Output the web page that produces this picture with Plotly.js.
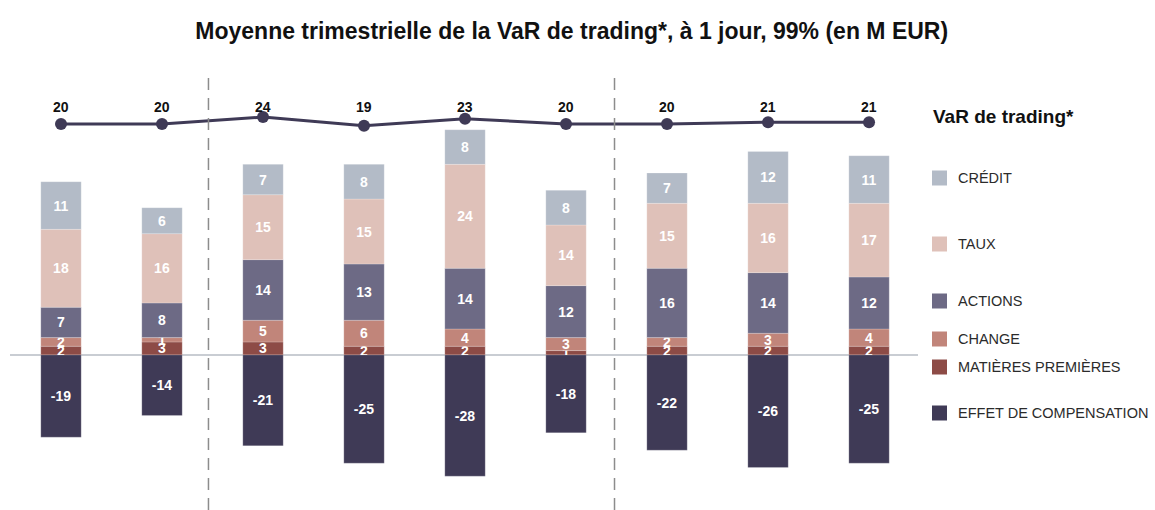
<!DOCTYPE html>
<html>
<head>
<meta charset="utf-8">
<script src="https://cdn.plot.ly/plotly-3.0.1.min.js"></script>
<style>html,body{margin:0;padding:0;background:#fff;}#chart{width:1155px;height:510px;}</style>
</head>
<body>
<div id="chart"></div>
<script>
// ---- Data ----
const quarters = ['T1','T2','T3','T4','T5','T6','T7','T8','T9'];
const matieresPremieres = [2, 3, 3, 2, 2, 1, 2, 2, 2];
const change = [2, 1, 5, 6, 4, 3, 2, 3, 4];
const actions = [7, 8, 14, 13, 14, 12, 16, 14, 12];
const taux = [18, 16, 15, 15, 24, 14, 15, 16, 17];
const credit = [11, 6, 7, 8, 8, 8, 7, 12, 11];
const effetCompensation = [-19, -14, -21, -25, -28, -18, -22, -26, -25];
const varTrading = [20, 20, 24, 19, 23, 20, 20, 21, 21];

const seriesNames = ['CRÉDIT', 'TAUX', 'ACTIONS', 'CHANGE', 'MATIÈRES PREMIÈRES', 'EFFET DE COMPENSATION'];
const legendTitle = 'VaR de trading*';
const chartTitle = 'Moyenne trimestrielle de la VaR de trading*, à 1 jour, 99% (en M EUR)';

// ---- Styles ----
const colors = {
  credit: '#b3bbc7',
  taux: '#dfc1b9',
  actions: '#6d6a85',
  change: '#c1857a',
  mp: '#8d4b46',
  effet: '#3f3a56'
};
const FONT = '"Liberation Sans", Arial, sans-serif';

// plot area geometry (px)
const W = 1155, H = 510;
const mL = 10, mR = 240, mT = 60, mB = 10;
const plotW = W - mL - mR, plotH = H - mT - mB;
const px2x = p => (p - mL) / plotW;
const px2y = p => (H - mB - p) / plotH;

function barTrace(name, vals, color) {
  return {
    type: 'bar', x: quarters, y: vals, name: name,
    marker: {color: color, line: {color: 'rgba(255,255,255,0.35)', width: 0.6}},
    width: 0.4,
    text: vals.map(String), textposition: 'inside', insidetextanchor: 'middle',
    textangle: 0, constraintext: 'none', cliponaxis: false,
    textfont: {color: '#ffffff', size: 14, family: FONT, weight: 'bold'},
    showlegend: false, hoverinfo: 'skip'
  };
}

const traces = [
  barTrace(seriesNames[4], matieresPremieres, colors.mp),
  barTrace(seriesNames[3], change, colors.change),
  barTrace(seriesNames[2], actions, colors.actions),
  barTrace(seriesNames[1], taux, colors.taux),
  barTrace(seriesNames[0], credit, colors.credit),
  barTrace(seriesNames[5], effetCompensation, colors.effet),
  {
    type: 'scatter', mode: 'lines+markers', x: quarters, y: varTrading, yaxis: 'y2',
    name: legendTitle,
    line: {color: colors.effet, width: 3},
    marker: {color: colors.effet, size: 12},
    showlegend: false, hoverinfo: 'skip', cliponaxis: false
  }
];

// line value labels (fixed row above the line)
const annotations = varTrading.map((v, i) => ({
  x: i, xref: 'x', y: px2y(107), yref: 'paper', text: String(v), showarrow: false,
  font: {family: FONT, size: 14, color: '#111', weight: 'bold'}, yanchor: 'middle'
}));

// custom legend
const legendColors = [colors.credit, colors.taux, colors.actions, colors.change, colors.mp, colors.effet];
const legendY = [178, 244, 301, 339, 367, 413];
annotations.push({
  x: px2x(931), xref: 'paper', y: px2y(117), yref: 'paper', xanchor: 'left', yanchor: 'middle',
  text: '<b>' + legendTitle + '</b>', showarrow: false,
  font: {family: FONT, size: 19, color: '#111'}
});
const shapes = [];
seriesNames.forEach((n, i) => {
  annotations.push({
    x: px2x(956), xref: 'paper', y: px2y(legendY[i]), yref: 'paper', xanchor: 'left', yanchor: 'middle',
    text: n, showarrow: false, font: {family: FONT, size: 14.5, color: '#2b2b2b'}
  });
  shapes.push({
    type: 'rect', xref: 'paper', yref: 'paper',
    x0: px2x(932), x1: px2x(947), y0: px2y(legendY[i] + 7.5), y1: px2y(legendY[i] - 7.5),
    fillcolor: legendColors[i], line: {width: 0}
  });
});

// zero line
shapes.push({type: 'line', xref: 'paper', yref: 'y', x0: 0, x1: px2x(918), y0: 0, y1: 0,
  line: {color: '#c9cdd3', width: 2}, layer: 'below'});
// dashed separators
[1.46, 5.48].forEach(xv => shapes.push({
  type: 'line', xref: 'x', yref: 'paper', x0: xv, x1: xv, y0: px2y(510), y1: px2y(72),
  line: {color: '#8c8c8c', width: 1.5, dash: '12px,8px'}
}));

const layout = {
  width: W, height: H,
  margin: {l: mL, r: mR, t: mT, b: mB},
  paper_bgcolor: '#fff', plot_bgcolor: '#fff',
  barmode: 'relative', bargap: 0.6,
  showlegend: false,
  title: {text: '<b>' + chartTitle + '</b>', x: 0.495, xref: 'container', xanchor: 'center',
    y: 0.94, yref: 'container', yanchor: 'middle',
    font: {family: FONT, size: 23, color: '#111'}},
  xaxis: {type: 'category', range: [-0.505, 8.455], showticklabels: false, showgrid: false,
    zeroline: false, showline: false, ticks: '', fixedrange: true},
  yaxis: {range: [-33.5, 68.1], showticklabels: false, showgrid: false, zeroline: false,
    showline: false, ticks: '', fixedrange: true},
  yaxis2: {range: [-194.9, 56.6], overlaying: 'y', showticklabels: false, showgrid: false,
    zeroline: false, showline: false, ticks: '', fixedrange: true},
  annotations: annotations,
  shapes: shapes,
  font: {family: FONT}
};

Plotly.newPlot('chart', traces, layout, {staticPlot: true, displayModeBar: false});
</script>
</body>
</html>
